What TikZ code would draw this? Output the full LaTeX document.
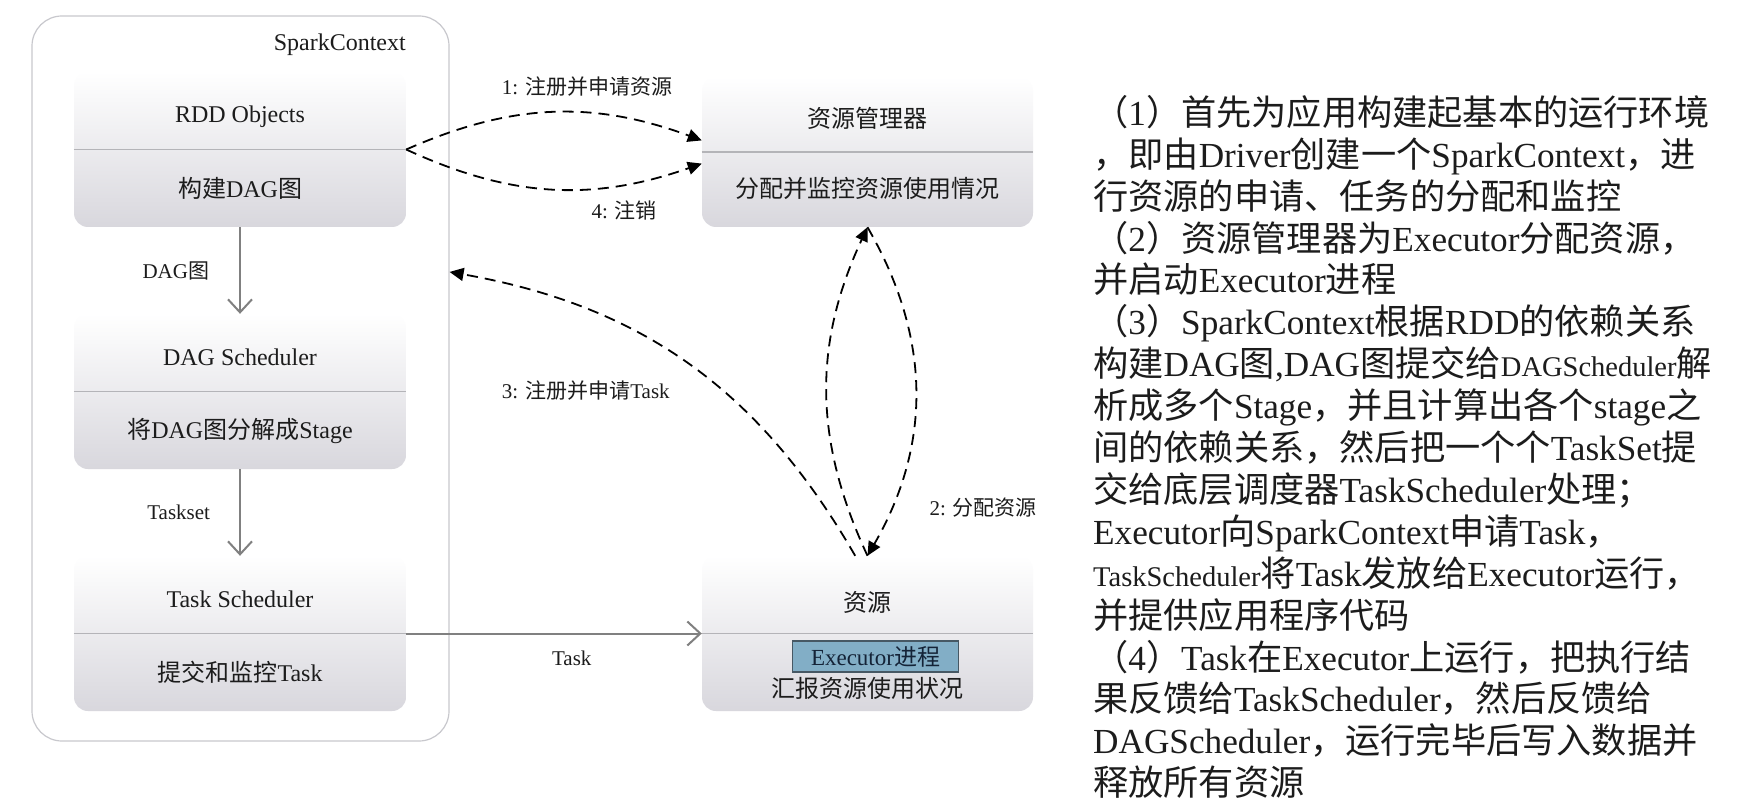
\documentclass[tikz,border=0pt]{standalone}
\usepackage{fontspec}
\setmainfont{Liberation Serif}
\newfontfamily\cjkfont{Noto Sans CJK SC}
\usetikzlibrary{arrows.meta,calc,positioning}

% switch to the CJK font for Chinese characters
\XeTeXinterchartokenstate=1
\newXeTeXintercharclass\cjkclass
\newcommand\setcjkrange[2]{\count255=#1\relax
  \loop\XeTeXcharclass\count255=\cjkclass\relax
  \ifnum\count255<#2\relax\advance\count255 by 1\relax\repeat}
\setcjkrange{"3000}{"303F}
\setcjkrange{"4E00}{"9FFF}
\setcjkrange{"FF00}{"FFEF}
\newcommand\westfont{\rmfamily}
\XeTeXinterchartoks 0 \cjkclass = {\cjkfont}
\XeTeXinterchartoks 4095 \cjkclass = {\cjkfont}
\XeTeXinterchartoks \cjkclass 0 = {\westfont}
\XeTeXinterchartoks \cjkclass 4095 = {\westfont}

\definecolor{boxgray}{RGB}{216,215,221}
\definecolor{sepgray}{RGB}{180,180,184}
\definecolor{arrgray}{RGB}{128,128,128}
\definecolor{scgray}{RGB}{200,200,205}
\definecolor{exfill}{RGB}{130,174,198}
\definecolor{exborder}{RGB}{70,88,100}
\definecolor{extext}{RGB}{20,35,55}
\definecolor{txtcol}{RGB}{28,28,28}
\newcommand\namefont{\fontsize{28.5}{41.9}\selectfont}

\begin{document}
\begin{tikzpicture}[x=1pt,y=-1pt,
  blk/.style={rounded corners=14pt,top color=white,bottom color=boxgray,minimum width=332pt,minimum height=155pt,inner sep=0pt},
  txt/.style={font=\fontsize{24}{28}\selectfont,text=txtcol,inner sep=1pt},
  lbl/.style={font=\fontsize{21}{25}\selectfont,text=txtcol,inner sep=2pt},
  sep/.style={draw=sepgray,line width=1.5pt},
  flow/.style={draw=arrgray,line width=2pt,-{Straight Barb[length=13pt,width=24pt]}},
  msg/.style={line width=1.8pt,dash pattern=on 11pt off 7pt,-{Triangle[length=14pt,width=13pt]}},
  desc/.style={font=\fontsize{35.2}{41.9}\selectfont,align=left,inner sep=0pt,text=txtcol}]
\useasboundingbox (0,0) rectangle (1740,805);
\fill[white] (0,0) rectangle (1740,805);

% driver side
\node[draw=scgray,line width=1.2pt,rounded corners=30pt,minimum width=417pt,minimum height=725pt] (sc) at (240.5,378.5) {};
\node[txt,anchor=east] (scname) at (407,45) {SparkContext};

\node[blk] (rdd) at (240,149.5) {};
\node[blk] (dag) at (240,391.5) {};
\node[blk] (ts) at (240,633.5) {};
\draw[sep] (rdd.west) -- (rdd.east);
\draw[sep] (dag.west) -- (dag.east);
\draw[sep] (ts.west) -- (ts.east);
\node[txt] (rddname) at ([yshift=33pt]rdd.center) {RDD Objects};
\node[txt] (rddjob) at ([yshift=-39pt]rdd.center) {构建DAG图};
\node[txt] (dagname) at ([yshift=34pt]dag.center) {DAG Scheduler};
\node[txt] (dagjob) at ([yshift=-39pt]dag.center) {将DAG图分解成Stage};
\node[txt] (tsname) at ([yshift=34pt]ts.center) {Task Scheduler};
\node[txt] (tsjob) at ([yshift=-39pt]ts.center) {提交和监控Task};

% cluster side
\node[blk,minimum width=331pt,minimum height=150pt] (rm) at (867.5,152) {};
\node[blk,minimum width=331pt] (res) at (867.5,633.5) {};
\draw[sep] (rm.west) -- (rm.east);
\draw[sep] (res.west) -- (res.east);
\node[txt] (rmname) at ([yshift=34pt]rm.center) {资源管理器};
\node[txt] (rmjob) at ([yshift=-36pt]rm.center) {分配并监控资源使用情况};
\node[txt] (resname) at ([yshift=31pt]res.center) {资源};
\node[draw=exborder,fill=exfill,line width=1.5pt,minimum width=166pt,minimum height=31pt,inner sep=0pt,text=extext,font=\fontsize{23}{27}\selectfont] (exec) at ([xshift=8pt,yshift=-23pt]res.center) {Executor进程};
\node[txt] (resjob) at ([yshift=-55pt]res.center) {汇报资源使用状况};

% connectors
\draw[flow] (rdd) -- node[lbl,left=28pt]{DAG图} (dag);
\draw[flow] (dag) -- node[lbl,left=27pt]{Taskset} (ts);
\draw[flow] (ts) -- node[lbl,pos=.56,below=14pt]{Task} (res);
\draw[msg] (rdd.east) to[bend left=22] node[lbl,pos=.62,above=14pt]{1: 注册并申请资源} (rm.176);
\draw[msg] (rdd.east) to[bend right=22] node[lbl,pos=.75,below=14pt]{4: 注销} (rm.184);
\draw[msg] (res.north) to[bend left=25] (rm.south);
\draw[msg] (rm.south) to[bend left=30] node[lbl,pos=.86,right=36pt,yshift=2pt]{2: 分配资源} (res.north);
\draw[msg] (res.99) to[bend right=25] node[lbl,pos=.5,anchor=east,xshift=-15pt,yshift=-27pt]{3: 注册并申请Task} (sc.27);

% steps text
\node[desc,anchor=north west] (steps) at (1093,95) {（1）首先为应用构建起基本的运行环境\\
，即由Driver创建一个SparkContext，进\\
行资源的申请、任务的分配和监控\\
（2）资源管理器为Executor分配资源，\\
并启动Executor进程\\
（3）SparkContext根据RDD的依赖关系\\
构建DAG图,DAG图提交给{\namefont DAGScheduler}解\\
析成多个Stage，并且计算出各个stage之\\
间的依赖关系，然后把一个个TaskSet提\\
交给底层调度器TaskScheduler处理；\\
Executor向SparkContext申请Task，\\
{\namefont TaskScheduler}将Task发放给Executor运行，\\
并提供应用程序代码\\
（4）Task在Executor上运行，把执行结\\
果反馈给TaskScheduler，然后反馈给\\
DAGScheduler，运行完毕后写入数据并\\
释放所有资源};
\end{tikzpicture}
\end{document}
